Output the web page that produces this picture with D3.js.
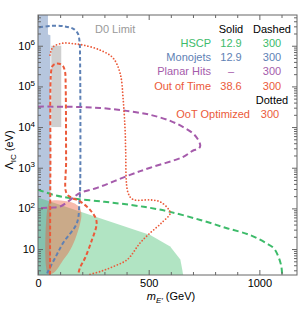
<!DOCTYPE html>
<html>
<head>
<meta charset="utf-8">
<script src="https://cdnjs.cloudflare.com/ajax/libs/d3/7.8.5/d3.min.js"></script>
<style>
body { margin: 0; background: #fff; }
svg { font-family: "Liberation Sans", Arial, sans-serif; }
</style>
</head>
<body>
<svg id="chart" width="300" height="309"></svg>
<script>
// axis ranges and ticks
var xDomain = [0, 1170]
var yDomain = [2.3, 5.7e6]
var xMajor = [0, 500, 1000]
var xMinor = [100, 200, 300, 400, 600, 700, 800, 900, 1100]
var yMajor = [10, 100, 1e3, 1e4, 1e5, 1e6]

// points are [m_E' in GeV, Lambda_IC in eV]
// shaded regions (solid lines of the legend)
var hscpSolid = [[0, 2.3], [0, 185], [507, 22], [597, 11.6], [643, 5.5], [656, 2.3]]
var monojetSolid = [[0, 2.3], [0, 5.7e6], [45, 5.7e6], [45, 1.9e6], [56, 1.8e6], [56, 2.3]]
var d0Limit = [[60, 1e4], [60, 1e6], [105, 1e6], [105, 1e4]]
var ootSolid = [[45, 2.5], [45, 120], [55, 148], [80, 158], [120, 152], [160, 135], [188, 105],
  [196, 70], [190, 42], [167, 17], [140, 8.5], [113, 5.3], [88, 3.3], [65, 2.5]]

// dashed curves (300 fb^-1)
var hscpDashed = [[0, 290], [70, 215], [150, 178], [300, 145], [416, 122], [507, 103], [597, 82],
  [733, 52], [850, 33], [959, 22], [1030, 14], [1065, 10.5], [1086, 6.5], [1099, 3.8], [1103, 2.3]]
var monojetDashed = [[5, 2.8e6], [60, 3.1e6], [120, 3.0e6], [160, 2.6e6], [180, 2.0e6], [188, 1.2e6],
  [190, 5e5], [190, 250], [187, 140], [176, 44], [113, 14], [77, 6], [45, 2.8], [38, 2.3]]
var planarDashed = [[0, 3.18e4], [150, 3.15e4], [280, 2.95e4], [400, 2.5e4], [507, 2.0e4], [600, 1.4e4],
  [656, 1.0e4], [700, 7000], [722, 5000], [733, 3500], [725, 2900], [701, 2650], [656, 1850],
  [507, 1000], [416, 668], [267, 320], [190, 240], [158, 182], [130, 140], [100, 111], [60, 104], [0, 103]]
var ootDashed = [[54, 2.3], [56, 1e3], [60, 2.5e5], [66, 3.2e5], [78, 3.6e5], [95, 3.6e5], [112, 3.2e5],
  [122, 2.3e5], [125, 1e5], [127, 1500], [128, 240], [150, 185], [190, 148], [235, 92], [262, 55],
  [264, 38], [244, 17], [213, 6.1], [190, 3.5], [181, 2.3]]

// dotted curve (OoT optimized, 300 fb^-1)
var ootDotted = [[54, 5.9e5], [68, 9.3e5], [113, 1.16e6], [160, 1.12e6], [204, 1.04e6], [281, 7.8e5],
  [339, 5.0e5], [371, 2.1e5], [385, 4.6e4], [394, 7200], [396, 2750], [407, 240], [430, 165],
  [507, 162], [552, 145], [590, 95], [597, 75], [560, 45], [507, 25], [462, 14.3], [403, 5.5],
  [339, 3.7], [281, 2.8], [222, 2.3]]

// legend
var legendNames = ["HSCP", "Monojets", "Planar Hits", "Out of Time"]
var solidLumi = ["12.9", "12.9", "\u2013", "38.6"]
var dashedLumi = ["300", "300", "300", "300"]
var dottedName = "OoT Optimized"
var dottedLumi = "300"

var green = "#3dbb6a", blue = "#5e81b5", purple = "#a55bab", red = "#eb5a3a"
var legendColors = [green, blue, purple, red]

var svg = d3.select("#chart")
var pl = 38, pr = 297, pt = 15, pb = 275

var x = d3.scaleLinear().domain(xDomain).range([pl, pr])
var y = d3.scaleLog().domain(yDomain).range([pb, pt])

svg.append("clipPath").attr("id", "plot")
  .append("rect").attr("x", pl).attr("y", pt)
  .attr("width", pr - pl).attr("height", pb - pt)

var g = svg.append("g").attr("clip-path", "url(#plot)")

var area = d3.line().x(function(d) { return x(d[0]) }).y(function(d) { return y(d[1]) })
var smooth = d3.line().x(function(d) { return x(d[0]) }).y(function(d) { return y(d[1]) })
  .curve(d3.curveCatmullRom.alpha(0.5))
var blob = d3.line().x(function(d) { return x(d[0]) }).y(function(d) { return y(d[1]) })
  .curve(d3.curveCatmullRomClosed.alpha(0.5))

// fills
g.append("path").datum(d0Limit).attr("d", area).attr("fill", "#cfcfcf")
g.append("path").datum(monojetSolid).attr("d", area).attr("fill", blue).attr("fill-opacity", 0.45)
g.append("path").datum(hscpSolid).attr("d", area).attr("fill", green).attr("fill-opacity", 0.4)
g.append("path").datum(ootSolid).attr("d", blob)
  .attr("fill", red).attr("fill-opacity", 0.42)

// curves
function drawLine(data, color, dash, width) {
  g.append("path").datum(data).attr("d", smooth)
    .attr("fill", "none").attr("stroke", color).attr("stroke-width", width)
    .attr("stroke-dasharray", dash)
}
drawLine(hscpDashed, green, "6,3.5", 2)
drawLine(planarDashed, purple, "6,3.5", 2)
drawLine(monojetDashed, blue, "4,2.5", 2)
drawLine(ootDashed, red, "4,2.5", 2)
g.append("path").datum(ootDotted).attr("d", smooth)
  .attr("fill", "none").attr("stroke", red).attr("stroke-width", 1.8)
  .attr("stroke-linecap", "round").attr("stroke-dasharray", "0,3.2")

// frame with inward ticks on all sides
var frameColor = "#666"
function ticks(axis, pos, vals, size, labels) {
  var a = svg.append("g").attr("transform", pos)
    .call(axis.tickValues(vals).tickSize(-size).tickPadding(4)
      .tickFormat(labels ? d3.format("d") : function() { return "" }))
  a.select(".domain").remove()
  a.selectAll("line").attr("stroke", frameColor)
  a.selectAll("text").attr("font-size", 11).attr("fill", "#000")
  a.attr("font-family", null)
  return a
}
var yMinor = []
yMajor.concat([1]).forEach(function(p) {
  for (var k = 2; k < 10; k++) {
    var v = p * k
    if (v > yDomain[0] && v < yDomain[1]) yMinor.push(v)
  }
})

ticks(d3.axisBottom(x), "translate(0," + pb + ")", xMajor, 5, true)
ticks(d3.axisBottom(x), "translate(0," + pb + ")", xMinor, 3, false)
ticks(d3.axisTop(x), "translate(0," + pt + ")", xMajor, 5, false)
ticks(d3.axisTop(x), "translate(0," + pt + ")", xMinor, 3, false)

var yl = ticks(d3.axisLeft(y), "translate(" + pl + ",0)", yMajor, 5, true)
yl.selectAll("text").attr("x", -3).each(function(d) {
  var t = d3.select(this).text("")
  var e = Math.round(Math.log10(d))
  t.append("tspan").text("10")
  if (e > 1) t.append("tspan").attr("font-size", 8).attr("dy", "-0.55em").text(e)
})
ticks(d3.axisLeft(y), "translate(" + pl + ",0)", yMinor, 3, false)
ticks(d3.axisRight(y), "translate(" + pr + ",0)", yMajor, 5, false)
ticks(d3.axisRight(y), "translate(" + pr + ",0)", yMinor, 3, false)

svg.append("rect").attr("x", pl).attr("y", pt)
  .attr("width", pr - pl).attr("height", pb - pt)
  .attr("fill", "none").attr("stroke", frameColor).attr("stroke-width", 1)

// axis titles
var xt = svg.append("text").attr("x", 171).attr("y", 300).attr("text-anchor", "middle")
  .attr("font-size", 11)
xt.append("tspan").attr("font-style", "italic").text("m")
xt.append("tspan").attr("font-style", "italic").attr("font-size", 8).attr("dy", 2.5).text("E\u2032")
xt.append("tspan").attr("dy", -2.5).text(" (GeV)")

var yt = svg.append("text").attr("transform", "translate(13,150) rotate(-90)")
  .attr("text-anchor", "middle").attr("font-size", 11)
yt.append("tspan").text("\u039B")
yt.append("tspan").attr("font-size", 8).attr("dy", 3).text("IC")
yt.append("tspan").attr("dy", -3).text(" (eV)")

// labels inside the plot
svg.append("text").attr("x", 95).attr("y", 33).attr("font-size", 11)
  .attr("fill", "#999").text("D0 Limit")

var lg = svg.append("g").attr("font-size", 11)
lg.append("text").attr("x", 231).attr("y", 33).attr("text-anchor", "middle").text("Solid")
lg.append("text").attr("x", 272).attr("y", 33).attr("text-anchor", "middle").text("Dashed")
legendNames.forEach(function(n, i) {
  var yy = 47 + i * 14.2
  lg.append("text").attr("x", 211).attr("y", yy).attr("text-anchor", "end")
    .attr("fill", legendColors[i]).text(n)
  lg.append("text").attr("x", 231).attr("y", yy).attr("text-anchor", "middle")
    .attr("fill", legendColors[i]).text(solidLumi[i])
  lg.append("text").attr("x", 272).attr("y", yy).attr("text-anchor", "middle")
    .attr("fill", legendColors[i]).text(dashedLumi[i])
})
lg.append("text").attr("x", 272).attr("y", 103.6).attr("text-anchor", "middle").text("Dotted")
lg.append("text").attr("x", 250).attr("y", 117.5).attr("text-anchor", "end")
  .attr("fill", red).text(dottedName)
lg.append("text").attr("x", 270).attr("y", 117.5).attr("text-anchor", "middle")
  .attr("fill", red).text(dottedLumi)
</script>
</body>
</html>
